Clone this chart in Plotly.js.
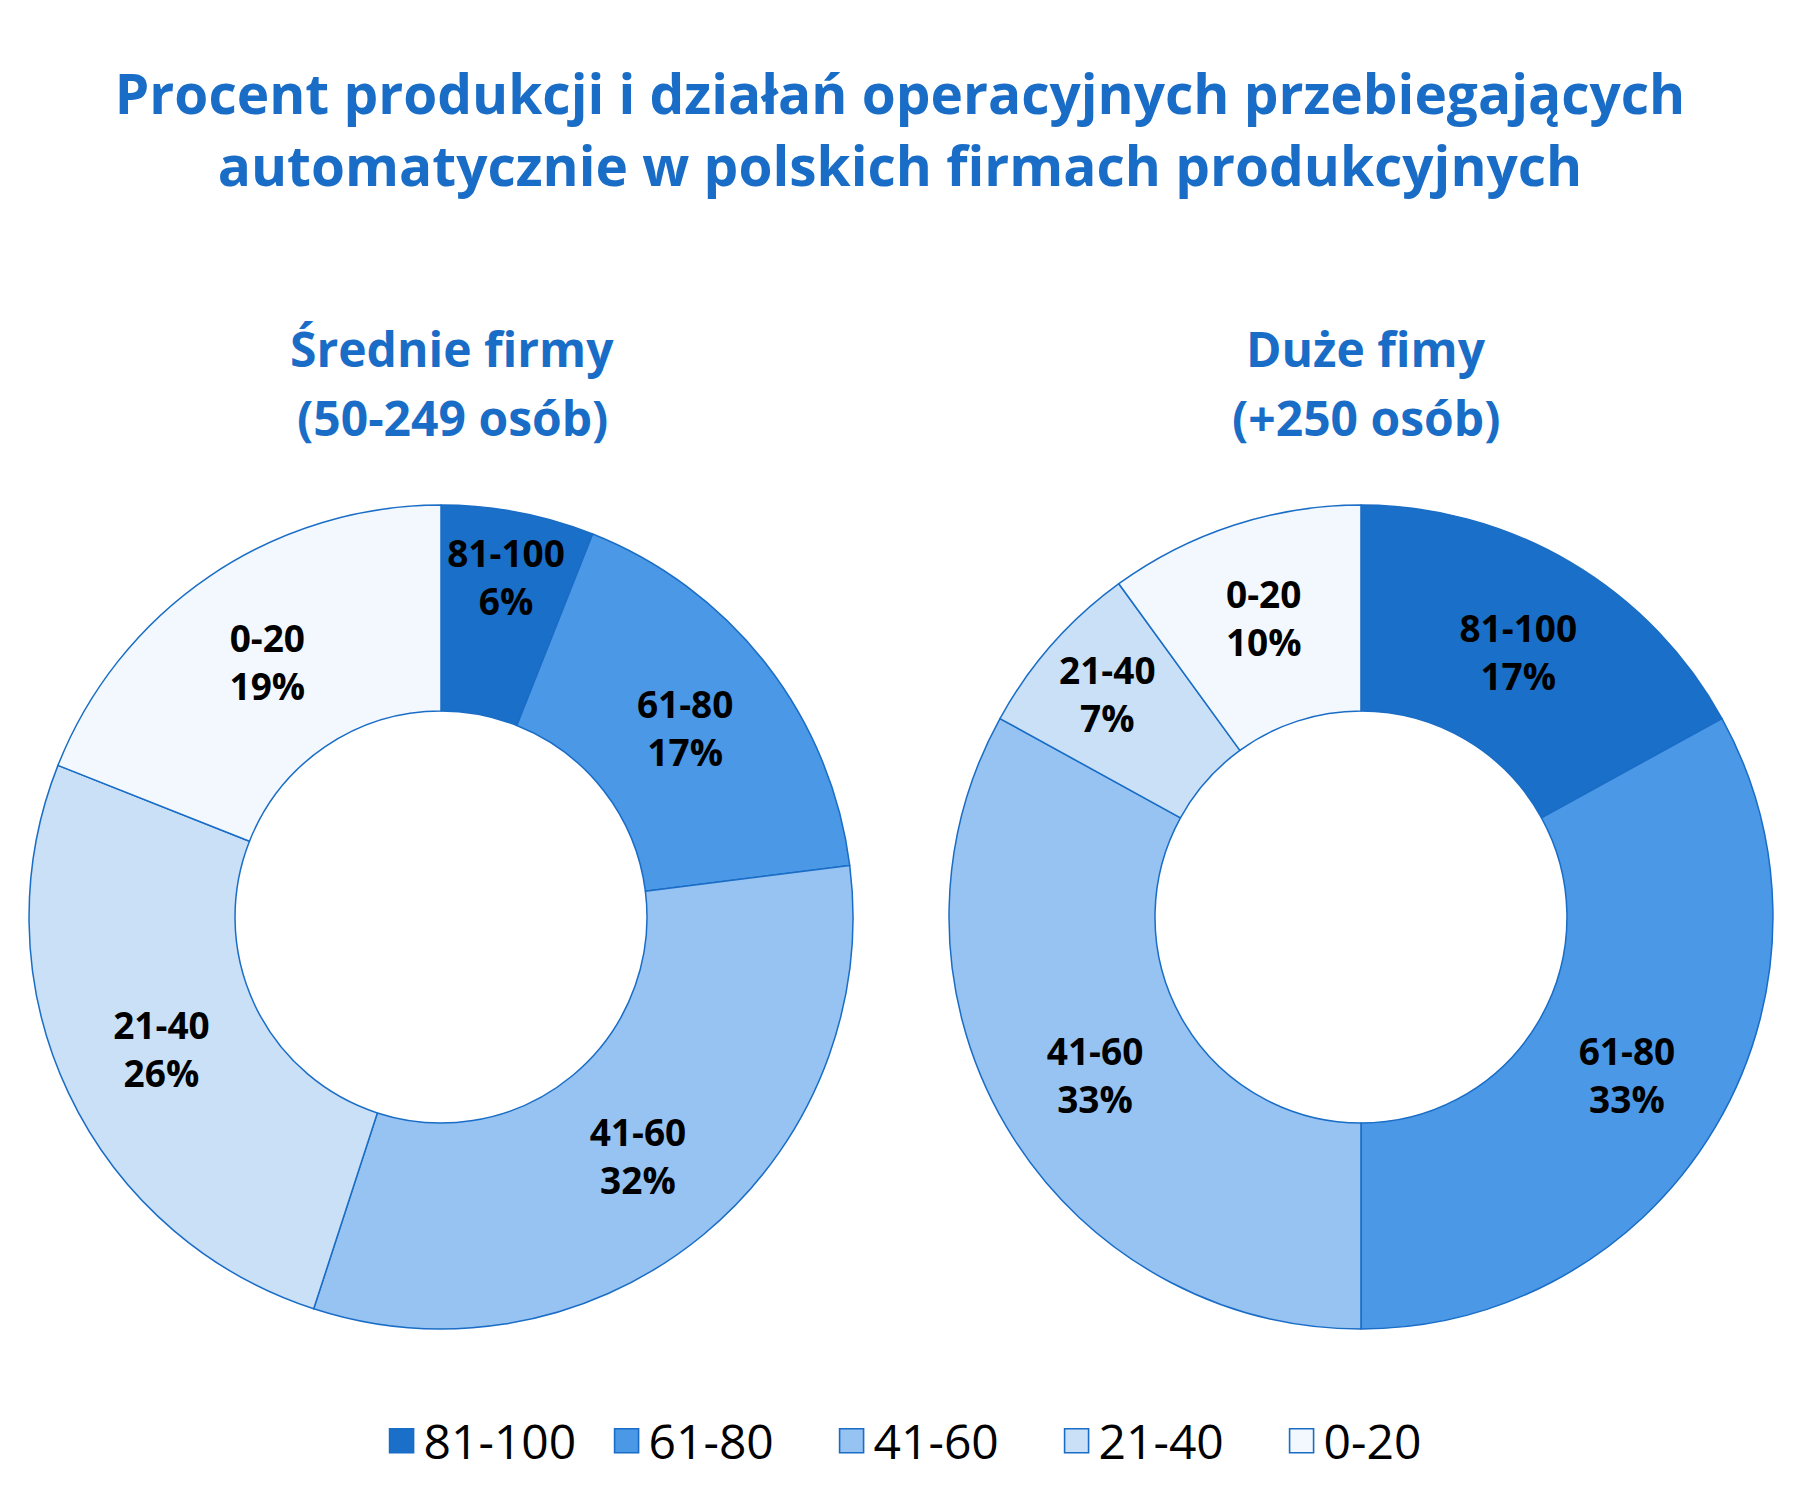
<!DOCTYPE html>
<html>
<head>
<meta charset="utf-8">
<script src="https://cdn.plot.ly/plotly-3.0.1.min.js"></script>
<style>html,body{margin:0;padding:0;background:#fff}#chart{width:1800px;height:1500px}</style>
</head>
<body>
<div id="chart"></div>
<script>
const categories = ["81-100", "61-80", "41-60", "21-40", "0-20"];
const mediumFirms = [6, 17, 32, 26, 19];
const largeFirms = [17, 33, 33, 7, 10];
const chartTitle = "Procent produkcji i działań operacyjnych przebiegających<br>automatycznie w polskich firmach produkcyjnych";
const mediumTitle = ["Średnie firmy", "(50-249 osób)"];
const largeTitle = ["Duże fimy", "(+250 osób)"];

const colors = ["#1a6fc8", "#4a98e6", "#96c3f2", "#c9e0f7", "#f2f8fe"];
const blue = "#1a6dc6";
const FONT = "Open Sans, sans-serif";

function donut(values, xdom) {
  return {
    type: "pie",
    labels: categories,
    values: values,
    hole: 0.5,
    sort: false,
    direction: "clockwise",
    rotation: 0,
    domain: {x: xdom, y: [0.114, 0.6633]},
    marker: {colors: colors, line: {color: blue, width: 1.5}},
    textinfo: "label+percent",
    textposition: "inside",
    insidetextorientation: "horizontal",
    textfont: {family: FONT, size: 37, color: "#000", weight: "bold"},
    hoverinfo: "label+percent"
  };
}

const data = [donut(mediumFirms, [0.0161, 0.4739]), donut(largeFirms, [0.5272, 0.985])];

function sub(text, xpx, ypx) {
  return {text: text, x: xpx / 1800, y: 1 - ypx / 1500, xref: "paper", yref: "paper", showarrow: false,
          xanchor: "center", yanchor: "middle",
          font: {family: FONT, size: 48, color: blue, weight: "bold"}};
}

const layout = {
  width: 1800, height: 1500,
  margin: {l: 0, r: 0, t: 0, b: 0},
  paper_bgcolor: "#fff",
  font: {family: FONT, color: "#000"},
  title: {text: chartTitle, x: 0.5, xanchor: "center", yref: "container", y: 1 - 114 / 1500, yanchor: "top",
          font: {family: FONT, size: 55, color: blue, weight: "bold"}},
  showlegend: true,
  legend: {orientation: "h", x: 0.5256, xanchor: "center", y: 1 - 1441 / 1500, yanchor: "middle",
           entrywidth: 180, entrywidthmode: "pixels",
           font: {family: FONT, size: 48, color: "#000"}, traceorder: "normal"},
  uniformtext: {mode: "show", minsize: 37},
  annotations: [
    sub(mediumTitle[0], 452, 348), sub(mediumTitle[1], 452, 417),
    sub(largeTitle[0], 1366, 348), sub(largeTitle[1], 1366, 417)
  ]
};

Plotly.newPlot("chart", data, layout, {displayModeBar: false}).then(function (gd) {
  gd.querySelectorAll(".legend .legendpoints path").forEach(function (p) {
    p.setAttribute("transform", "translate(18,0) scale(2)");
    p.style.strokeWidth = "0.8px";
  });
});
</script>
</body>
</html>
